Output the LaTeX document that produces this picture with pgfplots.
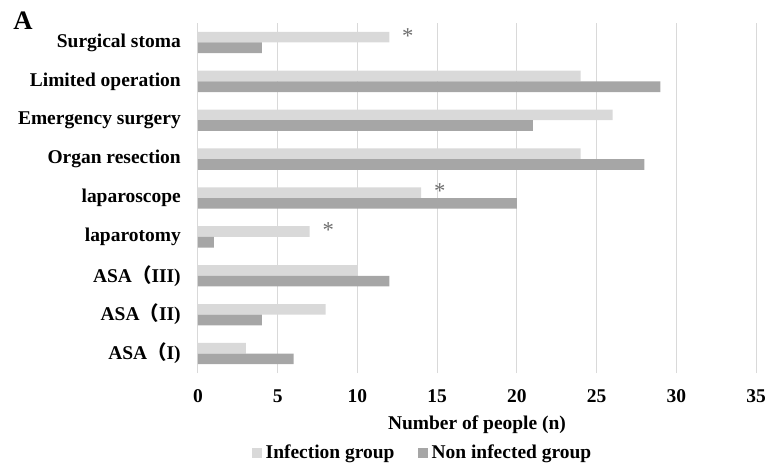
\documentclass[border=0pt]{standalone}
\usepackage{pgfplots}
\pgfplotsset{compat=1.18}
\usepackage{fontspec}
\setmainfont{Liberation Serif}
\newfontfamily\cjk{Noto Sans CJK SC}
\definecolor{lightbar}{HTML}{D9D9D9}
\definecolor{darkbar}{HTML}{A6A6A6}
\definecolor{gridc}{HTML}{D9D9D9}
\definecolor{star}{HTML}{6E6E6E}
\begin{document}
\begin{tikzpicture}
\useasboundingbox (0,0) rectangle (576pt,351pt);
\node[font=\fontsize{20}{22}\selectfont\bfseries] at (17.25pt,335.25pt) {A};
\begin{axis}[
  at={(148.5pt,71.25pt)}, anchor=south west,
  width=418.5pt, height=262.5pt, scale only axis,
  xbar, bar width=8pt,
  xmin=0, xmax=35, ymin=-0.5, ymax=8.5,
  xtick={0,5,...,35},
  ytick={0,...,8},
  yticklabels={ASA{\cjk （}I),ASA{\cjk （}II),ASA{\cjk （}III),laparotomy,laparoscope,Organ resection,Emergency surgery,Limited operation,Surgical stoma},
  major tick length=0pt,
  xmajorgrids, grid style={gridc, line width=0.75pt},
  x axis line style={draw=none},
  y axis line style={gridc, line width=0.75pt},
  axis line style={gridc},
  separate axis lines,
  /pgf/number format/assume math mode=true,
  xticklabel style={font=\fontsize{14.6}{17}\selectfont\bfseries, anchor=center, yshift=-17.6pt, inner sep=0pt},
  yticklabel style={font=\fontsize{14.6}{17}\selectfont\bfseries, anchor=east, inner sep=0pt, xshift=-12.75pt},
  xlabel={Number of people (n)},
  xlabel style={font=\fontsize{14.6}{17}\selectfont\bfseries, at={(axis description cs:0.5,-0.1486)}, anchor=center, inner sep=0pt},
  legend style={at={(axis description cs:0.4005,-0.2286)}, anchor=center, draw=none, fill=none,
    font=\fontsize{14.6}{17}\selectfont\bfseries, legend columns=2,
    nodes={inner sep=0pt},
    /tikz/every odd column/.append style={column sep=3pt},
    /tikz/every even column/.append style={column sep=17.25pt}, inner sep=0pt},
  legend image code/.code={\fill[#1] (0pt,-3.75pt) rectangle (7.5pt,3.75pt);},
  clip=false,
]
\addplot[fill=lightbar, draw=none, bar shift=4pt,
  point meta=explicit symbolic,
  nodes near coords,
  every node near coord/.append style={anchor=west, inner sep=0pt, xshift=9.5pt, yshift=1pt, font=\fontsize{17}{19}\selectfont, text=star}]
  coordinates {(3,0) [] (8,1) [] (10,2) [] (7,3) [*] (14,4) [*] (24,5) [] (26,6) [] (24,7) [] (12,8) [*]};
\addlegendentry{Infection group}
\addplot[fill=darkbar, draw=none, bar shift=-4pt]
  coordinates {(6,0) (4,1) (12,2) (1,3) (20,4) (28,5) (21,6) (29,7) (4,8)};
\addlegendentry{Non infected group}
\end{axis}
\end{tikzpicture}
\end{document}
